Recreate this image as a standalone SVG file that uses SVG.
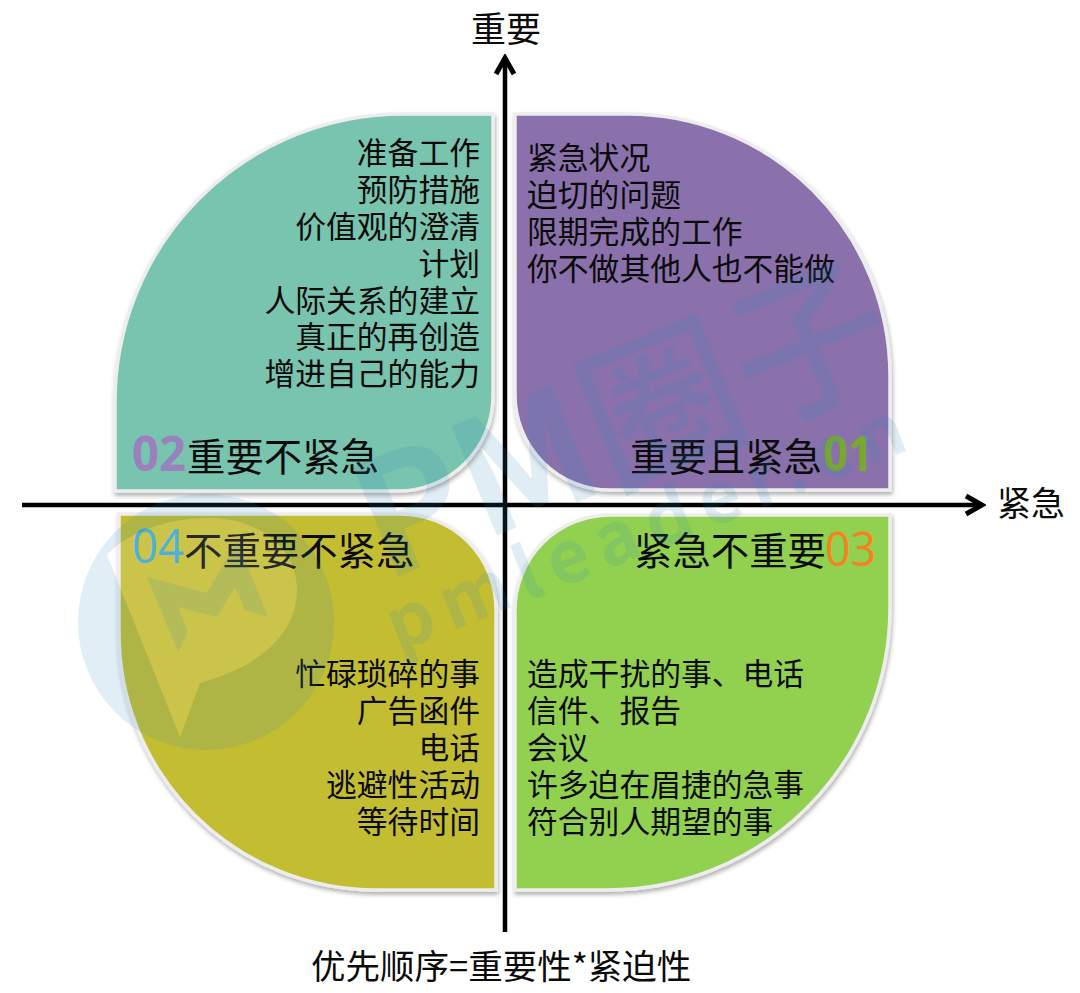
<svg xmlns="http://www.w3.org/2000/svg" width="1080" height="993" viewBox="0 0 1080 993">
<defs>
<filter id="sh" x="-5%" y="-5%" width="110%" height="110%"><feDropShadow dx="1" dy="3" stdDeviation="2" flood-color="#000" flood-opacity=".3"/></filter>
<marker id="ah" markerUnits="userSpaceOnUse" markerWidth="24" markerHeight="24" refX="20" refY="12" orient="auto"><path d="M4 3 L20 12 L4 21" fill="none" stroke="#000" stroke-width="5"/></marker>
</defs>
<style>
text{font-family:"Noto Sans CJK SC","Noto Sans",sans-serif;fill:#0b0b0b}
.q{stroke:#ededed;stroke-width:3.5;filter:url(#sh)}
.l{font-size:30.8px}
.h{font-size:38.4px}
.n{font-family:"Open Sans","Noto Sans",sans-serif;font-size:48px}
.e{text-anchor:end}
.ax{stroke:#000;stroke-width:4.5;fill:none;marker-end:url(#ah)}
.wm{fill:#2f86bd;opacity:.14}
</style>
<rect width="1080" height="993" fill="#fff"/>
<g id="q02"><path class="q" fill="#78c4ae" d="M115 491V402A288 288 0 0 1 403 114H493V396A95 95 0 0 1 398 491Z"/>
<text class="l e" x="480" y="164">准备工作</text><text class="l e" x="480" y="201">预防措施</text><text class="l e" x="480" y="238">价值观的澄清</text><text class="l e" x="480" y="275">计划</text><text class="l e" x="480" y="312">人际关系的建立</text><text class="l e" x="480" y="348">真正的再创造</text><text class="l e" x="480" y="385">增进自己的能力</text>
<text class="n" x="132" y="471" font-weight="700" textLength="54" lengthAdjust="spacingAndGlyphs" style="fill:#9a80bd">02</text><text class="h" x="187" y="471">重要不紧急</text></g>
<g id="q01"><path class="q" fill="#8a71ac" d="M515 114H628A262 262 0 0 1 890 376V490H610A95 95 0 0 1 515 395Z"/>
<text class="l" x="527" y="169">紧急状况</text><text class="l" x="527" y="206">迫切的问题</text><text class="l" x="527" y="243">限期完成的工作</text><text class="l" x="527" y="280">你不做其他人也不能做</text>
<text class="h" x="630" y="471">重要且紧急</text><text class="n" x="823" y="471" font-weight="700" textLength="50" lengthAdjust="spacingAndGlyphs" style="fill:#78a82e">01</text></g>
<g id="q04"><path class="q" fill="#c3bd33" d="M119 514H401A95 95 0 0 1 496 609V890H376A257 257 0 0 1 119 633Z"/>
<text class="h" x="184" y="565">不重要不紧急</text><text class="n" x="132" y="563" textLength="52" lengthAdjust="spacingAndGlyphs" style="fill:#35a6d8">04</text>
<text class="l e" x="480" y="685">忙碌琐碎的事</text><text class="l e" x="480" y="722">广告函件</text><text class="l e" x="480" y="759">电话</text><text class="l e" x="480" y="796">逃避性活动</text><text class="l e" x="480" y="833">等待时间</text></g>
<g id="q03"><path class="q" fill="#92d050" d="M610 515H890V608A282 282 0 0 1 608 890H515V610A95 95 0 0 1 610 515Z"/>
<text class="h" x="634" y="565">紧急不重要</text><text class="n" x="825" y="566" textLength="51" lengthAdjust="spacingAndGlyphs" style="fill:#f58220">03</text>
<text class="l" x="527" y="685">造成干扰的事、电话</text><text class="l" x="527" y="722">信件、报告</text><text class="l" x="527" y="759">会议</text><text class="l" x="527" y="796">许多迫在眉捷的急事</text><text class="l" x="527" y="833">符合别人期望的事</text></g>
<g id="connectors"><path class="ax" d="M505 932V58"/><path class="ax" d="M22 505H982"/></g>
<text x="471" y="42" font-size="35">重要</text>
<text x="997" y="516" font-size="34">紧急</text>
<text x="311" y="979" font-size="34.5">优先顺序=重要性*紧迫性</text>
<g id="watermark">
<path fill="#fff" opacity=".12" d="M107 555L180 737L200 683C265 665 297 630 297 590C297 545 255 518 210 518C170 518 130 530 107 555Z"/>
<path class="wm" fill-rule="evenodd" d="M334 622A128 128 0 1 1 78 622A128 128 0 1 1 334 622ZM107 555L180 737L200 683C265 665 297 630 297 590C297 545 255 518 210 518C170 518 130 530 107 555Z"/>
<path class="wm" d="M147 577L207 593L237 540L268 617L245 610L235 587L217 617L178 607L188 632L178 652Z"/>
<text class="wm" x="385" y="582" font-size="160" font-weight="500" transform="rotate(-22.5 385 582)" style="fill:#2f86bd"><tspan font-weight="700">PM</tspan><tspan>圈子</tspan></text>
<text class="wm" x="398" y="652" font-size="72" font-weight="700" letter-spacing="11" transform="rotate(-21.6 398 652)" style="fill:#2f86bd">pmleader.cn</text>
</g>
</svg>
